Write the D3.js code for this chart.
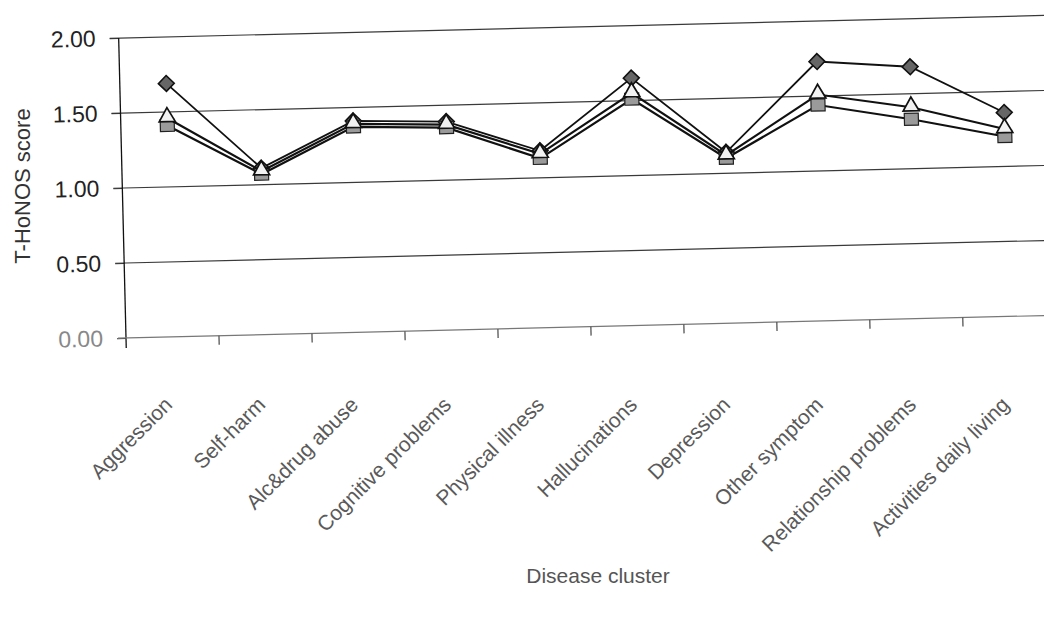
<!DOCTYPE html>
<html>
<head>
<meta charset="utf-8">
<script src="https://cdn.jsdelivr.net/npm/d3@7"></script>
<style>
  body { margin: 0; background: #fff; }
  svg { font-family: "Liberation Sans", Arial, sans-serif; }
</style>
</head>
<body>
<div id="container"></div>
<script>
// values
let categories = ["Aggression", "Self-harm", "Alc&drug abuse", "Cognitive problems", "Physical illness",
  "Hallucinations", "Depression", "Other symptom", "Relationship problems", "Activities daily living"];
let diamondSeries = [1.69, 1.11, 1.41, 1.39, 1.18, 1.65, 1.14, 1.73, 1.68, 1.36];
let squareSeries = [1.41, 1.07, 1.37, 1.35, 1.13, 1.51, 1.10, 1.44, 1.33, 1.20];
let triangleSeries = [1.46, 1.09, 1.39, 1.37, 1.16, 1.55, 1.12, 1.51, 1.41, 1.25];
let yTicks = [0, 0.5, 1, 1.5, 2];

let w = 1044;
let h = 619;
let padLeft = 126, padBottom = 338, padTop = 38, padRight = 1056;
let tilt = -1.4; // the page was scanned slightly rotated

let viz = d3.select('#container')
  .append('svg')
  .attr('width', w)
  .attr('height', h);

let xScale = d3.scaleBand().domain(categories).range([padLeft, padRight]);
let yScale = d3.scaleLinear().domain([0, 2]).range([padBottom, padTop]);

let plot = viz.append('g').attr('transform', `rotate(${tilt},${padLeft},${padBottom})`);

// gridlines
plot.selectAll('.grid')
  .data(yTicks.filter(d => d > 0))
  .enter().append('line')
  .attr('x1', padLeft - 9).attr('x2', padRight + 10)
  .attr('y1', d => yScale(d)).attr('y2', d => yScale(d))
  .attr('stroke', '#3a3a3a').attr('stroke-width', 1.2);

// y axis
let yAxis = d3.axisLeft(yScale).tickValues(yTicks).tickFormat(d3.format('.2f')).tickSize(9).tickPadding(14);
let yAxisGroup = plot.append('g').attr('transform', `translate(${padLeft},0)`).call(yAxis);
yAxisGroup.select('.domain').remove();
yAxisGroup.selectAll('line').attr('stroke', '#333');
yAxisGroup.selectAll('text')
  .attr('font-size', 23)
  .attr('font-family', '"Liberation Sans", Arial, sans-serif')
  .attr('fill', d => d === 0 ? '#888' : '#222');
plot.append('line')
  .attr('x1', padLeft).attr('x2', padLeft)
  .attr('y1', padTop).attr('y2', padBottom + 10)
  .attr('stroke', '#111').attr('stroke-width', 1.3);

// x axis
plot.append('line')
  .attr('x1', padLeft - 8).attr('x2', padRight + 10)
  .attr('y1', padBottom).attr('y2', padBottom)
  .attr('stroke', '#777').attr('stroke-width', 1.2);
plot.selectAll('.xtick')
  .data(categories.slice(1).concat(['end']))
  .enter().append('line')
  .attr('x1', d => d === 'end' ? padRight : xScale(d))
  .attr('x2', d => d === 'end' ? padRight : xScale(d))
  .attr('y1', padBottom).attr('y2', padBottom + 9)
  .attr('stroke', '#555').attr('stroke-width', 1.3);

// lines + markers
let cx = (d, i) => xScale(categories[i]) + xScale.bandwidth() / 2;
let line = d3.line().x((d, i) => cx(d, i)).y(d => yScale(d));

function drawSeries(values, width, marker) {
  plot.append('path')
    .datum(values)
    .attr('d', line)
    .attr('fill', 'none')
    .attr('stroke', '#111')
    .attr('stroke-width', width);
  let g = plot.append('g');
  values.forEach((v, i) => {
    let x = cx(v, i), y = yScale(v);
    if (marker === 'diamond') {
      g.append('path')
        .attr('d', d3.symbol().type(d3.symbolDiamond2).size(160)())
        .attr('transform', `translate(${x},${y})`)
        .attr('fill', '#666').attr('stroke', '#111').attr('stroke-width', 1.6);
    } else if (marker === 'square') {
      g.append('rect')
        .attr('x', x - 7).attr('y', y - 6).attr('width', 14).attr('height', 12)
        .attr('fill', '#9a9a9a').attr('stroke', '#222').attr('stroke-width', 1.2);
    } else {
      g.append('path')
        .attr('d', d3.symbol().type(d3.symbolTriangle2).size(185)())
        .attr('transform', `translate(${x},${y - 1})`)
        .attr('fill', '#f2f2f2').attr('stroke', '#111').attr('stroke-width', 1.7);
    }
  });
}

drawSeries(diamondSeries, 1.8, 'diamond');
drawSeries(squareSeries, 2.2, 'square');
drawSeries(triangleSeries, 2.2, 'triangle');

// category labels
viz.selectAll('.xlabel')
  .data(categories)
  .enter().append('text')
  .attr('transform', d => `translate(${xScale(d) + xScale.bandwidth() / 2 + 1},${406}) rotate(-45)`)
  .attr('text-anchor', 'end')
  .attr('font-size', 21)
  .attr('fill', '#5a5a5a')
  .text(d => d);

// axis titles
viz.append('text')
  .attr('transform', 'translate(30,186) rotate(-90)')
  .attr('text-anchor', 'middle')
  .attr('font-size', 22)
  .attr('fill', '#333')
  .text('T-HoNOS score');

viz.append('text')
  .attr('x', 598).attr('y', 583)
  .attr('text-anchor', 'middle')
  .attr('font-size', 21)
  .attr('fill', '#555')
  .text('Disease cluster');
</script>
</body>
</html>
